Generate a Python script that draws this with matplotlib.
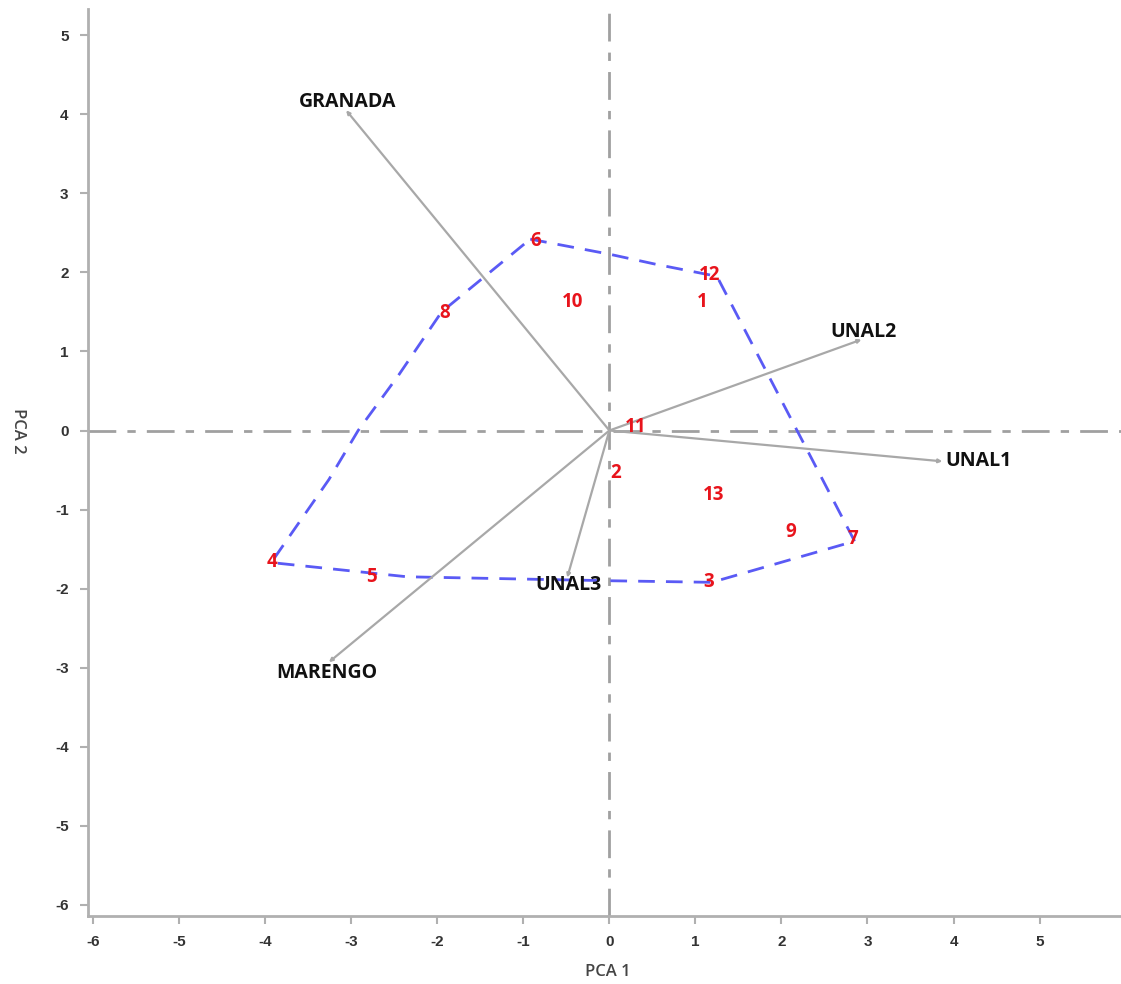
import matplotlib.pyplot as plt

plt.rcParams["axes.unicode_minus"] = False

# genotype scores (PCA 1, PCA 2)
genotypes = ["1", "2", "3", "4", "5", "6", "7", "8", "9", "10", "11", "12", "13"]
geno_x = [1.08, 0.07, 1.16, -3.92, -2.77, -0.86, 2.83, -1.91, 2.11, -0.43, 0.30, 1.16, 1.21]
geno_y = [1.63, -0.54, -1.92, -1.66, -1.85, 2.40, -1.37, 1.49, -1.28, 1.63, 0.05, 1.97, -0.81]

# environment vectors
envs = ["GRANADA", "UNAL2", "UNAL1", "UNAL3", "MARENGO"]
env_x = [-3.06, 2.93, 3.87, -0.49, -3.26]
env_y = [4.05, 1.15, -0.39, -1.86, -2.93]
# where each environment name sits
lab_x = [-3.04, 2.95, 3.90, -0.48, -3.28]
lab_y = [4.16, 1.24, -0.39, -1.95, -3.07]
lab_ha = ["center", "center", "left", "center", "center"]

# polygon around the outer genotypes
hull_x = [-0.92, 0.0, 0.55, 1.25, 2.85, 1.19, 0.0, -2.35, -3.93, -3.26, -2.92, -2.45, -1.95, -0.92]
hull_y = [2.42, 2.23, 2.10, 1.95, -1.40, -1.92, -1.90, -1.85, -1.67, -0.62, 0.0, 0.70, 1.50, 2.42]

fig = plt.figure(figsize=(11.21, 9.84), dpi=100)
ax = fig.add_axes([0.0785, 0.0691, 0.9256, 0.9217])

# reference lines through origin
ax.axhline(0, color="#a0a0a0", lw=2, dashes=(10, 4, 3, 4), zorder=1)
ax.axvline(0, color="#a0a0a0", lw=2, dashes=(10, 4, 3, 4), zorder=1)

# polygon
ax.plot(hull_x, hull_y, color="#5a5af5", lw=2, dashes=(6, 4), zorder=2)

# environment vectors
for name, x, y, lx, ly, ha in zip(envs, env_x, env_y, lab_x, lab_y, lab_ha):
    ax.annotate("", xy=(x, y), xytext=(0, 0),
                arrowprops=dict(arrowstyle="-|>", color="#a8a8a8", lw=1.6,
                                mutation_scale=5, shrinkA=0, shrinkB=0), zorder=3)
    ax.text(lx, ly, name, ha=ha, va="center", fontsize=14, fontweight="bold",
            family="Open Sans", color="#111111", zorder=4)

# genotype numbers
for name, x, y in zip(genotypes, geno_x, geno_y):
    ax.text(x, y, name, ha="center", va="center", fontsize=13.5, fontweight="bold",
            family="Open Sans", color="#e8141c", zorder=5)

ax.set_xlim(-6.06, 6.0)
ax.set_ylim(-6.14, 5.33)
ax.set_xticks(range(-6, 7))
ax.set_yticks(range(-6, 6))

for side in ["top", "right"]:
    ax.spines[side].set_visible(False)
for side in ["left", "bottom"]:
    ax.spines[side].set_color("#b0b0b0")
    ax.spines[side].set_linewidth(2)
ax.tick_params(length=6, width=1.5, color="#b0b0b0", labelcolor="#333333", labelsize=11, pad=8)
for lab in ax.get_xticklabels() + ax.get_yticklabels():
    lab.set_fontweight("bold")
    lab.set_family("Liberation Sans")

fig.text(608 / 1121, 1 - 972 / 984, "PCA 1", ha="center", va="center", fontsize=12,
         family="Open Sans", fontweight="semibold", color="#444444")
fig.text(18 / 1121, 1 - 431 / 984, "PCA 2", ha="center", va="center", fontsize=12,
         family="Open Sans", fontweight="semibold", color="#444444", rotation=270)

fig.savefig("out.png", dpi=100)
